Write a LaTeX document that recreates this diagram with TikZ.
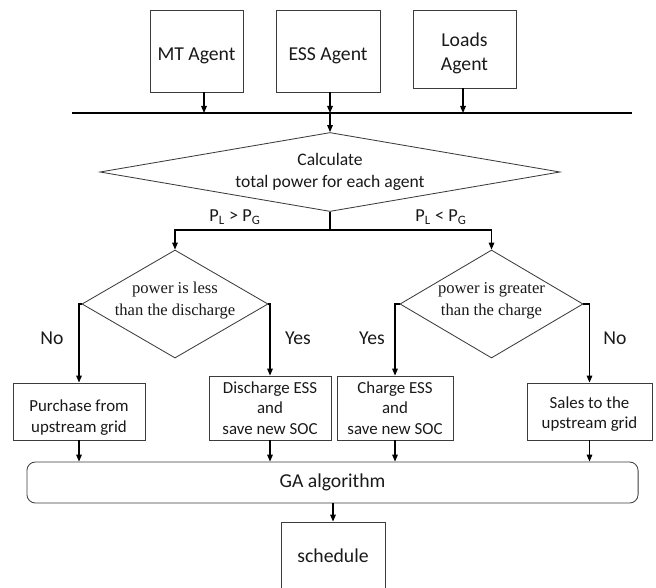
\documentclass[tikz,border=0pt]{standalone}
\usepackage{fontspec}
\setmainfont{Carlito}
\newfontfamily\diamfont{Liberation Serif}
\usepackage{tikz}
\usetikzlibrary{shapes.geometric, arrows.meta, positioning}
\definecolor{boxline}{RGB}{60, 60, 60}
\definecolor{textdark}{RGB}{25, 25, 25}
\newcommand{\lowstrut}[1]{\rule{0pt}{#1}}
\tikzset{
    agentbox/.style={draw=boxline, line width=0.6pt, inner sep=2pt, align=center, text=textdark, font=\fontsize{14}{17.5}\selectfont},
    actionbox/.style={draw=boxline, line width=0.6pt, inner sep=2pt, align=center, text=textdark, font=\fontsize{12}{14.5}\selectfont},
    decision/.style={draw=boxline, line width=0.6pt, diamond, inner sep=0pt, align=center, text=textdark},
    diamtext/.style={align=center, text=textdark, font=\diamfont\fontsize{11.8}{15.5}\selectfont},
    condlabel/.style={text=textdark, font=\fontsize{13}{15}\selectfont},
    flowarrow/.style={-{Triangle[length=5pt,width=4pt]}, line width=0.8pt}
}

\begin{document}
\begin{tikzpicture}[x=0.025cm, y=-0.025cm]
    \useasboundingbox (0,0) rectangle (656,587);
    \clip (0,0) rectangle (656,587);

    % agents and bus
    \node[agentbox, minimum width=2.325cm, minimum height=2.05cm] (mtagent) at (196.5,51) {\lowstrut{16pt}MT Agent};
    \node[agentbox, minimum width=2.6cm, minimum height=2.05cm] (essagent) at (328,51) {\lowstrut{16pt}ESS Agent};
    \node[agentbox, minimum width=2.575cm, minimum height=1.95cm] (loadsagent) at (464.5,49) {\lowstrut{16pt}Loads\\Agent};
    \coordinate (busleft) at (72,113);
    \coordinate (busright) at (632,113);
    \draw[line width=1.1pt] (busleft) -- (busright);
    \coordinate (mtin) at (204,113);
    \coordinate (essin) at (330,113);
    \coordinate (loadsin) at (463,113);
    \draw[flowarrow] (mtagent.south -| mtin) -- (mtin);
    \draw[flowarrow] (essagent.south -| essin) -- (essin);
    \draw[flowarrow] (loadsagent.south -| loadsin) -- (loadsin);

    % total power
    \node[decision, aspect=5.8, minimum width=11.5cm, minimum height=1.975cm,
          font=\fontsize{12.5}{15.6}\selectfont] (totalpower) at (330,172)
          {Calculate\\total power for each agent};
    \draw[flowarrow] (essin) -- (totalpower.north);
    \coordinate (split) at (330,230);
    \draw[line width=0.8pt] (totalpower.south) -- (split);

    % decisions
    \node[decision, aspect=1.72, minimum width=4.65cm, minimum height=2.7cm] (lessdis) at (175,304) {};
    \node[diamtext] (lessdistext) at ([yshift=2.5pt]lessdis.center) {power is less\\than the discharge};
    \node[decision, aspect=1.7, minimum width=4.575cm, minimum height=2.7cm] (greatchg) at (491.5,304) {};
    \node[diamtext] (greatchgtext) at ([yshift=2.5pt]greatchg.center) {power is greater\\than the charge};
    \draw[flowarrow] (split) -| (lessdis.north);
    \draw[flowarrow] (split) -| (greatchg.north);
    \node[condlabel] (plgreater) at (235,217) {P\textsubscript{L} > P\textsubscript{G}};
    \node[condlabel] (plless) at (441,217) {P\textsubscript{L} < P\textsubscript{G}};

    % actions
    \node[actionbox, minimum width=3.3cm, minimum height=1.425cm] (purchase) at (79,411.5) {\lowstrut{17pt}Purchase from\\upstream grid};
    \node[actionbox, minimum width=3.05cm, minimum height=1.6cm] (discharge) at (270,408) {Discharge ESS\\and\\save new SOC};
    \node[actionbox, minimum width=2.9cm, minimum height=1.6cm] (charge) at (395,408) {Charge ESS\\and\\save new SOC};
    \node[actionbox, minimum width=3.125cm, minimum height=1.425cm] (sales) at (589.5,411.5) {\lowstrut{12pt}Sales to the\\upstream grid};
    \draw[flowarrow] (lessdis.west) -| (purchase.north);
    \draw[flowarrow] (lessdis.east) -| (discharge.north);
    \draw[flowarrow] (greatchg.west) -| (charge.north);
    \draw[flowarrow] (greatchg.east) -| (sales.north);
    \node[condlabel, font=\fontsize{14}{16}\selectfont] (nopurchase) at (52,338) {No};
    \node[condlabel, font=\fontsize{14}{16}\selectfont] (yesdischarge) at (298,338) {Yes};
    \node[condlabel, font=\fontsize{14}{16}\selectfont] (yescharge) at (372,338) {Yes};
    \node[condlabel, font=\fontsize{14}{16}\selectfont] (nosales) at (615,338) {No};

    % GA and schedule
    \node[agentbox, rounded corners=6pt, minimum width=15.275cm, minimum height=1.025cm] (gaalgo) at (332.5,482.5) {GA algorithm};
    \foreach \src in {purchase, discharge, charge, sales}
        \draw[flowarrow] (\src.south) -- (\src.south |- gaalgo.north);
    \node[agentbox, minimum width=2.6cm, minimum height=1.7cm] (schedule) at (333,556) {schedule};
    \draw[flowarrow] (gaalgo.south -| schedule.north) -- (schedule.north);
\end{tikzpicture}
\end{document}
